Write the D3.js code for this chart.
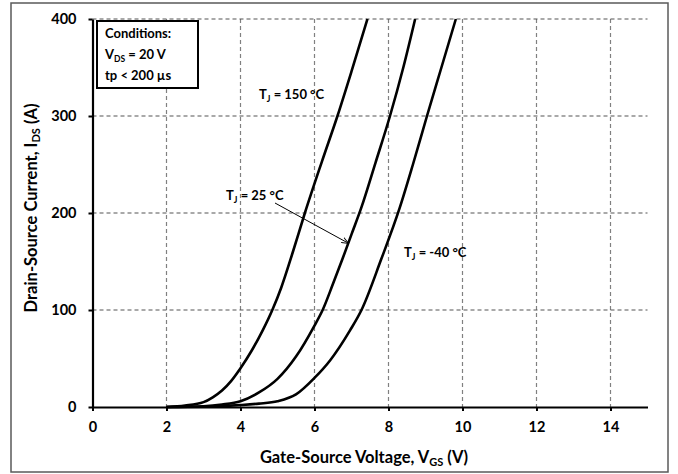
<!DOCTYPE html>
<html><head><meta charset="utf-8">
<script src="https://cdn.jsdelivr.net/npm/d3@7"></script>
<style>
html,body{margin:0;padding:0;background:#fff;}
svg text{font-family:Lato,"Open Sans",sans-serif;font-weight:bold;fill:#000;}
</style></head>
<body><svg id="c" width="678" height="474"></svg>
<script>
// ---- data ----
const xTicks = [0, 2, 4, 6, 8, 10, 12, 14];
const yTicks = [0, 100, 200, 300, 400];
const vgs150 = [2, 2.5, 3, 3.25, 3.5, 3.75, 4, 4.3, 4.6, 4.86, 5.1, 5.4, 5.74, 6.2, 6.62, 7.0, 7.43];
const ids150 = [0, 1.5, 5, 10, 17, 27, 40, 58, 79, 100, 123, 158, 200, 253, 300, 346, 400];
const vgs25 = [2, 3, 3.5, 4, 4.5, 5, 5.5, 6, 6.22, 6.5, 6.75, 7.0, 7.27, 7.65, 8.04, 8.4, 8.72];
const ids25 = [0, 0.8, 2.5, 6, 15, 29, 52, 84, 100, 127, 152, 178, 206, 252, 300, 350, 400];
const vgsM40 = [2, 3, 4, 4.5, 5, 5.5, 6, 6.42, 6.96, 7.27, 7.8, 8.3, 8.66, 9.04, 9.43, 9.82];
const idsM40 = [0, 0.3, 2, 3.5, 6, 13, 30, 48, 79, 100, 152, 205, 250, 300, 350, 400];

const svg = d3.select("#c");
const x = d3.scaleLinear().domain([0, 15]).range([92.5, 647.5]);
const y = d3.scaleLinear().domain([0, 400]).range([407, 19]);

// outer frame
svg.append("rect").attr("x", 11).attr("y", 3).attr("width", 657).attr("height", 469)
  .attr("fill", "none").attr("stroke", "#5a5a5a").attr("stroke-width", 1.5);

// grid
svg.append("g").selectAll("line").data(xTicks.filter(d => d > 0)).join("line")
  .attr("x1", d => x(d)).attr("x2", d => x(d)).attr("y1", y(400)).attr("y2", y(0))
  .attr("stroke", "#808080").attr("stroke-width", 1.2).attr("stroke-dasharray", "4,3");
svg.append("g").selectAll("line").data(yTicks.filter(d => d > 0)).join("line")
  .attr("x1", x(0)).attr("x2", x(15)).attr("y1", d => y(d)).attr("y2", d => y(d))
  .attr("stroke", "#555").attr("stroke-width", 1.2).attr("stroke-dasharray", "4,3");

// axes
const xAxis = svg.append("g").attr("transform", `translate(0,${y(0)})`)
  .call(d3.axisBottom(x).tickValues(xTicks).tickSize(4).tickPadding(11).tickSizeOuter(0));
const yAxis = svg.append("g").attr("transform", `translate(${x(0)},0)`)
  .call(d3.axisLeft(y).tickValues(yTicks).tickSize(4).tickPadding(12).tickSizeOuter(0));
[xAxis, yAxis].forEach(a => {
  a.select(".domain").attr("stroke", "#000").attr("stroke-width", 2.2);
  a.selectAll(".tick line").attr("stroke", "#000").attr("stroke-width", 2);
  a.selectAll(".tick text").style("font-size", "14.5px").style("font-family", "Lato,sans-serif").style("font-weight", "bold");
});

// curves
const line = d3.line().x(d => x(d[0])).y(d => y(Math.max(0, d[1]))).curve(d3.curveMonotoneX);
[[vgs150, ids150], [vgs25, ids25], [vgsM40, idsM40]].forEach(([vs, is]) => {
  svg.append("path").attr("d", line(vs.map((v, i) => [v, is[i]])))
    .attr("fill", "none").attr("stroke", "#000").attr("stroke-width", 2.6)
    .attr("stroke-linejoin", "round");
});

// conditions box
svg.append("rect").attr("x", 97).attr("y", 21).attr("width", 101).attr("height", 67)
  .attr("fill", "#fff").attr("stroke", "#000").attr("stroke-width", 2);
const cond = svg.append("g").style("font-size", "13px");
cond.append("text").attr("x", 105).attr("y", 38).text("Conditions:");
const t2 = cond.append("text").attr("x", 105).attr("y", 59);
t2.append("tspan").text("V");
t2.append("tspan").attr("dy", 3).style("font-size", "8.5px").text("DS");
t2.append("tspan").attr("dy", -3).text(" = 20 V");
cond.append("text").attr("x", 105).attr("y", 80).text("tp < 200 µs");

// temperature labels
function tj(xp, yp, rest) {
  const t = svg.append("text").attr("x", xp).attr("y", yp).style("font-size", "13px");
  t.append("tspan").text("T");
  t.append("tspan").attr("dy", 3).style("font-size", "8.5px").text("J");
  t.append("tspan").attr("dy", -3).text(" = " + rest);
}
tj(259, 99, "150 °C");
tj(226, 200, "25 °C");
tj(404, 257, "-40 °C");

// arrow
svg.append("defs").append("marker").attr("id", "ah").attr("viewBox", "0 0 10 10")
  .attr("refX", 9).attr("refY", 5).attr("markerWidth", 7).attr("markerHeight", 7)
  .attr("orient", "auto").append("path").attr("d", "M0,1L10,5L0,9").attr("fill", "none").attr("stroke", "#000").attr("stroke-width", 1.3);
svg.append("line").attr("x1", 275).attr("y1", 203).attr("x2", 348).attr("y2", 243)
  .attr("stroke", "#000").attr("stroke-width", 1).attr("marker-end", "url(#ah)");

// axis titles
const xt = svg.append("text").attr("x", 364).attr("y", 463).attr("text-anchor", "middle").style("font-size", "16.5px");
xt.append("tspan").text("Gate-Source Voltage, V");
xt.append("tspan").attr("dy", 3).style("font-size", "11px").text("GS");
xt.append("tspan").attr("dy", -3).text(" (V)");
const yt = svg.append("text").attr("transform", "translate(37,208) rotate(-90)").attr("text-anchor", "middle").style("font-size", "16.5px");
yt.append("tspan").text("Drain-Source Current, I");
yt.append("tspan").attr("dy", 3).style("font-size", "11px").text("DS");
yt.append("tspan").attr("dy", -3).text(" (A)");
</script></body></html>
